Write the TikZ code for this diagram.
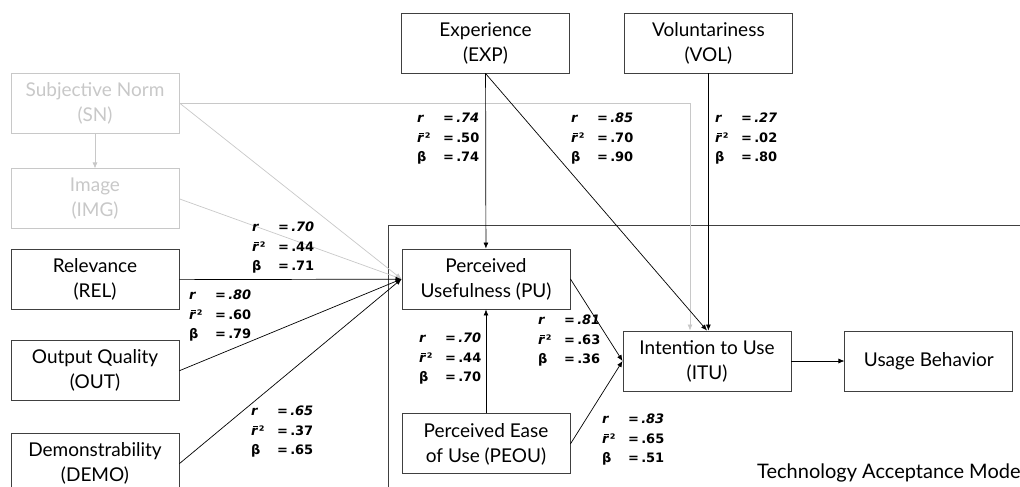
\documentclass[tikz,border=0pt]{standalone}
\usepackage{fontspec}
\setmainfont{Lato}
\newfontfamily\statfont{DejaVu Sans}
\usetikzlibrary{arrows.meta,positioning}
\definecolor{ink}{HTML}{404040}
\definecolor{faded}{HTML}{C8C8C8}
\newcommand{\rbar}{\textit{r}\llap{\rule[1.2ex]{0.38em}{0.6pt}}}
\newcommand{\pathstats}[3]{%
  \begin{tabular}[t]{@{}l@{}}
  \makebox[26pt][l]{\textit{r}}\textit{=\,.#1}\\
  \makebox[26pt][l]{\rbar\kern0.5pt²}=\,.#2\\
  \makebox[26pt][l]{β}=\,.#3
  \end{tabular}}

\begin{document}
\begin{tikzpicture}[x=1pt,y=-1pt,>={Latex[length=6pt,width=5pt]},
    every node/.style={font=\fontsize{19}{25}\selectfont},
    box/.style={draw=ink,line width=0.9pt,minimum width=168pt,minimum height=60pt,align=center,inner sep=0pt},
    fadedbox/.style={box,draw=faded,text=faded},
    stats/.style={anchor=base west,inner sep=0pt,font=\statfont\bfseries\fontsize{13}{19.5}\selectfont},
    link/.style={->,draw=black,line width=0.7pt},
    fadedlink/.style={->,draw=faded,line width=0.7pt}]
    \useasboundingbox (0,0) rectangle (1020,487);
    % external factors
    \node[fadedbox] (sn) at (95,103) {Subjective Norm\\(SN)};
    \node[fadedbox,below=35pt of sn] (img) {Image\\(IMG)};
    \node[box,below=20pt of img] (rel) {Relevance\\(REL)};
    \node[box,below=30pt of rel] (out) {Output Quality\\(OUT)};
    \node[box,below=32pt of out] (demo) {Demonstrability\\(DEMO)};
    \node[box] (exp) at (485.5,43) {Experience\\(EXP)};
    \node[box,right=54pt of exp] (vol) {Voluntariness\\(VOL)};
    % TAM core
    \draw[ink,line width=0.9pt] (1030,225) -| (388,497);
    \node[box] (pu) at (486,279) {Perceived\\Usefulness (PU)};
    \node[box,below=104pt of pu] (peou) {Perceived Ease\\of Use (PEOU)};
    \node[box] (itu) at (707,361) {Intention to Use\\(ITU)};
    \node[box,right=53pt of itu] (ub) {Usage Behavior};
    \node[anchor=west,inner sep=0pt,font=\fontsize{20}{25}\selectfont] (tam) at (757,473) {Technology Acceptance Mode};
    % paths
    \draw[fadedlink] (sn) -- (img);
    \draw[fadedlink] (sn.east) -- (pu.west);
    \draw[fadedlink] (img.east) -- (pu.west);
    \draw[fadedlink] (sn.east) -| ([xshift=-17pt]itu.north);
    \draw[link] (rel) -- (pu);
    \draw[link] (out.east) -- (pu.west);
    \draw[link] (demo.east) -- (pu.west);
    \draw[link] (exp) -- (pu);
    \draw[link] (exp.south) -- (itu.north);
    \draw[link] (vol.south) -- (vol.south |- itu.north);
    \draw[link] (peou) -- (pu);
    \draw[link] (pu.east) -- (itu.west);
    \draw[link] (peou.east) -- (itu.west);
    \draw[link] (itu) -- (ub);
    % coefficients
    \node[stats] (imgpu) at (252,231.5) {\pathstats{70}{44}{71}};
    \node[stats] (relpu) at (189,299.5) {\pathstats{80}{60}{79}};
    \node[stats] (demopu) at (251,415.5) {\pathstats{65}{37}{65}};
    \node[stats] (exppu) at (417,122.5) {\pathstats{74}{50}{74}};
    \node[stats] (expitu) at (571,122.5) {\pathstats{85}{70}{90}};
    \node[stats] (volitu) at (715,122.5) {\pathstats{27}{02}{80}};
    \node[stats] (peoupu) at (419,342.5) {\pathstats{70}{44}{70}};
    \node[stats] (puitu) at (538,324.5) {\pathstats{81}{63}{36}};
    \node[stats] (peouitu) at (602,423.5) {\pathstats{83}{65}{51}};
\end{tikzpicture}
\end{document}
